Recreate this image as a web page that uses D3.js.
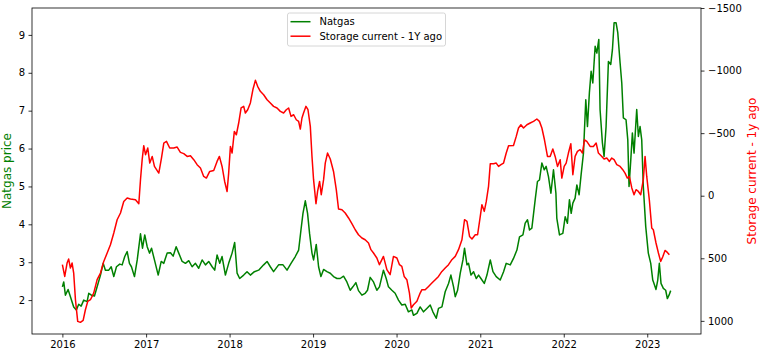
<!DOCTYPE html>
<html>
<head>
<meta charset="utf-8">
<script src="https://cdn.jsdelivr.net/npm/d3@7"></script>
<style>
  body { margin: 0; background: #fff; }
  svg { display: block; font-family: "DejaVu Sans", sans-serif; }
</style>
</head>
<body>
<div id="chart"></div>
<script>
// [decimal year, $/MMBtu]
const natgas = [
  [2016.000,2.35],[2016.016,2.48],[2016.036,2.13],[2016.068,2.28],[2016.096,2.09],[2016.135,1.82],[2016.167,1.74],[2016.195,1.89],[2016.224,1.84],[2016.255,2.00],[2016.295,1.96],[2016.315,2.18],[2016.347,2.13],[2016.383,2.11],[2016.415,2.35],[2016.455,2.66],[2016.487,2.97],[2016.514,2.79],[2016.554,2.79],[2016.583,2.88],[2016.614,2.62],[2016.646,2.88],[2016.685,2.95],[2016.714,2.93],[2016.745,3.15],[2016.774,3.28],[2016.801,2.97],[2016.825,2.88],[2016.861,2.62],[2016.894,3.06],[2016.933,3.75],[2016.957,3.37],[2016.984,3.72],
  [2017.013,3.41],[2017.041,3.24],[2017.065,3.37],[2017.100,3.06],[2017.145,2.66],[2017.181,3.02],[2017.212,2.97],[2017.252,3.24],[2017.292,3.25],[2017.324,3.16],[2017.360,3.41],[2017.391,3.24],[2017.432,3.02],[2017.471,2.97],[2017.511,3.04],[2017.551,2.88],[2017.591,2.97],[2017.630,2.84],[2017.671,3.06],[2017.711,2.93],[2017.750,3.02],[2017.791,2.88],[2017.822,2.79],[2017.850,3.19],[2017.882,2.97],[2017.910,3.15],[2017.950,2.66],[2017.989,2.97],
  [2018.030,3.24],[2018.061,3.52],[2018.090,2.71],[2018.121,2.57],[2018.169,2.66],[2018.209,2.75],[2018.249,2.66],[2018.297,2.75],[2018.348,2.79],[2018.408,2.93],[2018.449,3.02],[2018.488,2.88],[2018.527,2.75],[2018.587,2.93],[2018.640,2.93],[2018.688,2.79],[2018.736,2.97],[2018.787,3.15],[2018.827,3.32],[2018.855,3.85],[2018.879,4.29],[2018.907,4.62],[2018.934,4.29],[2018.958,3.76],[2018.987,3.24],
  [2019.006,3.06],[2019.038,3.47],[2019.066,2.88],[2019.094,2.62],[2019.126,2.81],[2019.166,2.75],[2019.206,2.71],[2019.245,2.62],[2019.286,2.57],[2019.325,2.57],[2019.365,2.63],[2019.405,2.48],[2019.445,2.26],[2019.477,2.35],[2019.513,2.46],[2019.544,2.25],[2019.585,2.13],[2019.624,2.18],[2019.652,2.26],[2019.684,2.60],[2019.724,2.48],[2019.764,2.26],[2019.795,2.35],[2019.843,2.79],[2019.876,2.57],[2019.903,2.35],[2019.944,2.26],[2019.983,2.18],
  [2020.023,2.00],[2020.063,1.87],[2020.103,1.89],[2020.142,1.69],[2020.183,1.74],[2020.202,1.60],[2020.243,1.65],[2020.282,1.82],[2020.322,1.69],[2020.362,1.78],[2020.402,1.87],[2020.434,1.69],[2020.474,1.52],[2020.501,1.78],[2020.542,1.82],[2020.581,2.22],[2020.621,2.44],[2020.649,2.66],[2020.681,2.35],[2020.701,2.09],[2020.729,2.26],[2020.761,2.71],[2020.793,3.06],[2020.812,3.37],[2020.841,2.93],[2020.860,2.97],[2020.889,2.66],[2020.920,2.75],[2020.952,2.57],[2020.980,2.66],
  [2021.008,2.57],[2021.048,2.44],[2021.080,2.66],[2021.120,3.06],[2021.152,2.75],[2021.191,2.62],[2021.239,2.53],[2021.279,2.75],[2021.311,2.97],[2021.359,2.93],[2021.398,3.10],[2021.439,3.32],[2021.470,3.67],[2021.511,3.72],[2021.538,4.03],[2021.566,4.12],[2021.590,3.85],[2021.618,3.90],[2021.658,4.65],[2021.685,5.13],[2021.709,5.17],[2021.738,5.62],[2021.766,5.44],[2021.789,5.53],[2021.817,5.26],[2021.846,4.82],[2021.877,5.44],[2021.906,4.82],[2021.917,4.16],[2021.949,3.72],[2021.989,3.76],
  [2022.017,4.20],[2022.044,4.03],[2022.068,4.65],[2022.089,4.29],[2022.109,4.56],[2022.136,4.69],[2022.157,5.04],[2022.184,4.78],[2022.208,5.31],[2022.236,5.88],[2022.264,7.29],[2022.284,6.58],[2022.307,7.47],[2022.328,8.04],[2022.348,7.73],[2022.376,8.70],[2022.396,8.52],[2022.420,8.88],[2022.435,7.03],[2022.463,6.15],[2022.483,5.79],[2022.507,6.58],[2022.535,8.30],[2022.563,8.22],[2022.583,8.61],[2022.603,9.32],[2022.627,9.32],[2022.647,9.06],[2022.675,8.26],[2022.695,7.73],[2022.714,6.81],[2022.746,6.76],[2022.767,6.23],[2022.782,5.00],[2022.803,5.70],[2022.822,6.41],[2022.842,5.88],[2022.874,7.03],[2022.894,6.32],[2022.914,6.58],[2022.934,6.23],[2022.953,5.00],[2022.982,3.94],
  [2023.013,3.24],[2023.042,2.97],[2023.066,2.53],[2023.081,2.44],[2023.105,2.28],[2023.126,2.53],[2023.145,2.97],[2023.165,2.44],[2023.193,2.31],[2023.221,2.26],[2023.241,2.04],[2023.261,2.13],[2023.281,2.25]
];

// [decimal year, storage current minus 1 year ago]
const storage = [
  [2016.000,551],[2016.028,645],[2016.056,538],[2016.075,506],[2016.096,578],[2016.116,538],[2016.135,618],[2016.156,831],[2016.183,1004],[2016.215,1012],[2016.248,996],[2016.275,911],[2016.303,844],[2016.335,831],[2016.374,778],[2016.415,671],[2016.455,618],[2016.494,525],[2016.535,458],[2016.574,392],[2016.614,298],[2016.654,192],[2016.694,138],[2016.733,46],[2016.774,18],[2016.813,26],[2016.873,32],[2016.913,64],[2016.933,-128],[2016.953,-288],[2016.972,-400],[2016.993,-328],
  [2017.020,-381],[2017.044,-261],[2017.073,-314],[2017.100,-234],[2017.152,-181],[2017.184,-301],[2017.212,-421],[2017.244,-434],[2017.283,-381],[2017.331,-381],[2017.372,-389],[2017.411,-346],[2017.451,-336],[2017.492,-314],[2017.531,-320],[2017.571,-288],[2017.611,-248],[2017.651,-221],[2017.690,-154],[2017.722,-141],[2017.762,-194],[2017.810,-202],[2017.850,-274],[2017.878,-314],[2017.910,-234],[2017.941,-114],[2017.970,-34],[2017.989,-181],
  [2018.010,-394],[2018.030,-341],[2018.057,-514],[2018.081,-487],[2018.109,-581],[2018.138,-701],[2018.169,-714],[2018.189,-661],[2018.217,-687],[2018.249,-741],[2018.281,-853],[2018.309,-922],[2018.336,-874],[2018.368,-834],[2018.408,-807],[2018.449,-767],[2018.488,-741],[2018.527,-714],[2018.568,-701],[2018.608,-674],[2018.647,-661],[2018.679,-687],[2018.707,-701],[2018.736,-634],[2018.767,-647],[2018.799,-607],[2018.827,-594],[2018.847,-533],[2018.867,-621],[2018.886,-661],[2018.915,-714],[2018.939,-687],[2018.967,-554],[2018.987,-314],
  [2019.006,-128],[2019.035,64],[2019.054,-34],[2019.078,-114],[2019.098,-8],[2019.126,-128],[2019.146,-261],[2019.173,-341],[2019.206,-293],[2019.245,-194],[2019.278,-48],[2019.305,106],[2019.346,112],[2019.385,138],[2019.425,178],[2019.465,224],[2019.505,272],[2019.544,312],[2019.585,338],[2019.624,352],[2019.664,378],[2019.693,431],[2019.724,458],[2019.764,498],[2019.795,551],[2019.843,485],[2019.884,591],[2019.923,631],[2019.963,485],
  [2020.004,498],[2020.035,551],[2020.063,565],[2020.091,645],[2020.123,671],[2020.154,778],[2020.175,897],[2020.202,871],[2020.243,844],[2020.282,778],[2020.303,751],[2020.342,751],[2020.382,725],[2020.422,698],[2020.462,671],[2020.501,645],[2020.542,605],[2020.581,578],[2020.621,551],[2020.661,511],[2020.701,485],[2020.740,431],[2020.781,352],[2020.812,192],[2020.841,205],[2020.872,325],[2020.901,346],[2020.940,312],[2020.968,312],
  [2021.000,165],[2021.020,72],[2021.048,125],[2021.072,46],[2021.099,-74],[2021.120,-256],[2021.159,-256],[2021.191,-261],[2021.219,-234],[2021.248,-248],[2021.279,-261],[2021.311,-341],[2021.339,-400],[2021.398,-402],[2021.431,-474],[2021.458,-541],[2021.487,-567],[2021.518,-541],[2021.559,-567],[2021.598,-581],[2021.638,-594],[2021.678,-613],[2021.709,-594],[2021.738,-541],[2021.769,-447],[2021.805,-314],[2021.837,-314],[2021.869,-373],[2021.897,-314],[2021.925,-234],[2021.957,-288],[2021.977,-141],
  [2022.005,-234],[2022.029,-261],[2022.056,-341],[2022.085,-415],[2022.109,-168],[2022.136,-314],[2022.164,-354],[2022.196,-368],[2022.224,-341],[2022.248,-447],[2022.276,-434],[2022.316,-394],[2022.355,-394],[2022.388,-421],[2022.415,-341],[2022.456,-314],[2022.483,-293],[2022.515,-301],[2022.547,-274],[2022.575,-301],[2022.603,-288],[2022.635,-248],[2022.675,-234],[2022.707,-208],[2022.734,-181],[2022.762,-141],[2022.786,-154],[2022.815,-62],[2022.842,-8],[2022.866,-48],[2022.894,-34],[2022.922,-8],[2022.953,-128],[2022.974,-314],[2022.994,-154],
  [2023.025,32],[2023.054,258],[2023.073,272],[2023.105,378],[2023.134,458],[2023.161,525],[2023.185,490],[2023.213,437],[2023.241,453],[2023.265,471]
];

const priceTicks = [2, 3, 4, 5, 6, 7, 8, 9];
const storageTicks = [-1500, -1000, -500, 0, 500, 1000];
const legendLabels = ['Natgas', 'Storage current - 1Y ago'];

const W = 760, H = 353;
const margin = {left: 32, right: 59, top: 8, bottom: 19};
const w = W - margin.left - margin.right;
const h = H - margin.top - margin.bottom;

// decimal year -> Date
const toDate = v => {
  const y = Math.floor(v);
  const a = new Date(y, 0, 1), b = new Date(y + 1, 0, 1);
  return new Date(+a + (v - y) * (b - a));
};

const svg = d3.select('#chart').append('svg').attr('width', W).attr('height', H);
const g = svg.append('g').attr('transform', `translate(${margin.left}, ${margin.top})`);

const x = d3.scaleTime().domain([toDate(2015.636), toDate(2023.644)]).range([0, w]);
const yL = d3.scaleLinear().domain([1.105, 9.71]).range([h, 0]);
const yR = d3.scaleLinear().domain([1105, -1500]).range([h, 0]);

const styleAxis = sel => {
  sel.select('.domain').remove();
  sel.selectAll('text').attr('font-size', 10).attr('fill', '#000').attr('font-family', '"DejaVu Sans", sans-serif');
  sel.selectAll('line').attr('stroke', '#000').attr('stroke-width', 0.8);
};

g.append('g').attr('transform', `translate(0, ${h})`)
  .call(d3.axisBottom(x).ticks(d3.timeYear.every(1)).tickFormat(d3.timeFormat('%Y')).tickSize(3.5).tickPadding(3.5))
  .call(styleAxis);
g.append('g')
  .call(d3.axisLeft(yL).tickValues(priceTicks).tickFormat(d3.format('d')).tickSize(3.5).tickPadding(3.5))
  .call(styleAxis);
g.append('g').attr('transform', `translate(${w}, 0)`)
  .call(d3.axisRight(yR).tickValues(storageTicks).tickFormat(d3.format('d')).tickSize(3.5).tickPadding(3.5))
  .call(styleAxis);

const lineL = d3.line().x(d => x(toDate(d[0]))).y(d => yL(d[1]));
const lineR = d3.line().x(d => x(toDate(d[0]))).y(d => yR(d[1]));

g.append('path').datum(natgas).attr('d', lineL)
  .attr('fill', 'none').attr('stroke', '#008000').attr('stroke-width', 1.5).attr('stroke-linejoin', 'round');
g.append('path').datum(storage).attr('d', lineR)
  .attr('fill', 'none').attr('stroke', '#ff0000').attr('stroke-width', 1.5).attr('stroke-linejoin', 'round');

g.append('rect').attr('width', w).attr('height', h)
  .attr('fill', 'none').attr('stroke', '#000').attr('stroke-width', 0.8);

// axis titles
svg.append('text')
  .attr('transform', `translate(11, ${margin.top + h / 2}) rotate(-90)`)
  .attr('text-anchor', 'middle').attr('font-size', 12).attr('fill', '#008000')
  .text('Natgas price');
svg.append('text')
  .attr('transform', `translate(756, ${margin.top + h / 2}) rotate(-90)`)
  .attr('text-anchor', 'middle').attr('font-size', 12).attr('fill', '#ff0000')
  .text('Storage current - 1y ago');

// legend, upper center
const legW = 158, legH = 33;
const leg = g.append('g').attr('transform', `translate(${(w - legW) / 2}, 5)`);
leg.append('rect').attr('width', legW).attr('height', legH).attr('rx', 2)
  .attr('fill', '#fff').attr('fill-opacity', 0.8).attr('stroke', '#ccc').attr('stroke-width', 0.8);
const colors = ['#008000', '#ff0000'];
legendLabels.forEach((t, i) => {
  const yy = 8.7 + i * 14.5;
  leg.append('line').attr('x1', 3).attr('x2', 23).attr('y1', yy).attr('y2', yy)
    .attr('stroke', colors[i]).attr('stroke-width', 1.5);
  leg.append('text').attr('x', 32).attr('y', yy).attr('dy', '0.35em')
    .attr('font-size', 10).attr('fill', '#000').text(t);
});
</script>
</body>
</html>
